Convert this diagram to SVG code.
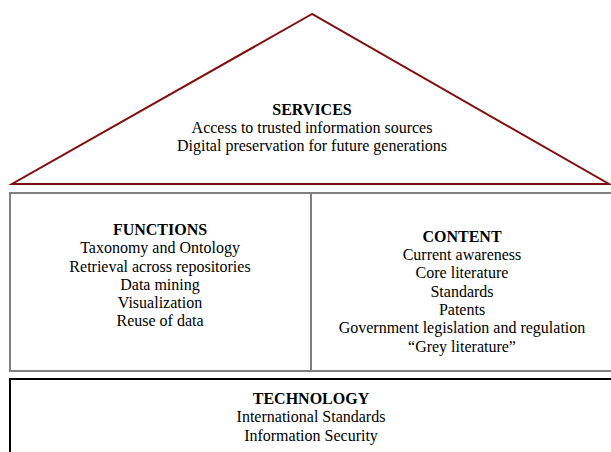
<svg xmlns="http://www.w3.org/2000/svg" width="611" height="452" viewBox="0 0 611 452">
<style>
text{font-family:"Liberation Serif","Times New Roman",serif;font-size:16px;fill:#000;text-anchor:middle}
.h{font-weight:bold}
</style>
<rect width="611" height="452" fill="#fff"/>
<g id="services">
<polygon points="312,14 12,184 609,184" fill="#fff" stroke="#7f0f0f" stroke-width="2" stroke-linejoin="miter"/>
<text class="h" x="312" y="115">SERVICES</text>
<text x="312" y="133">Access to trusted information sources</text>
<text x="312" y="151">Digital preservation for future generations</text>
</g>
<g id="functions">
<rect x="10" y="193" width="301" height="178" fill="#fff" stroke="#808080" stroke-width="2"/>
<text class="h" x="160" y="235">FUNCTIONS</text>
<text x="160" y="253">Taxonomy and Ontology</text>
<text x="160" y="272">Retrieval across repositories</text>
<text x="160" y="290">Data mining</text>
<text x="160" y="308">Visualization</text>
<text x="160" y="326">Reuse of data</text>
</g>
<g id="content">
<rect x="311" y="193" width="302" height="178" fill="#fff" stroke="#808080" stroke-width="2"/>
<text class="h" x="462" y="242">CONTENT</text>
<text x="462" y="260">Current awareness</text>
<text x="462" y="278">Core literature</text>
<text x="462" y="297">Standards</text>
<text x="462" y="315">Patents</text>
<text x="462" y="333">Government legislation and regulation</text>
<text x="462" y="352">“Grey literature”</text>
</g>
<g id="technology">
<rect x="10" y="379" width="603" height="80" fill="#fff" stroke="#000" stroke-width="2"/>
<text class="h" x="311" y="404">TECHNOLOGY</text>
<text x="311" y="422">International Standards</text>
<text x="311" y="441">Information Security</text>
</g>
<g id="connectors"></g>
</svg>
